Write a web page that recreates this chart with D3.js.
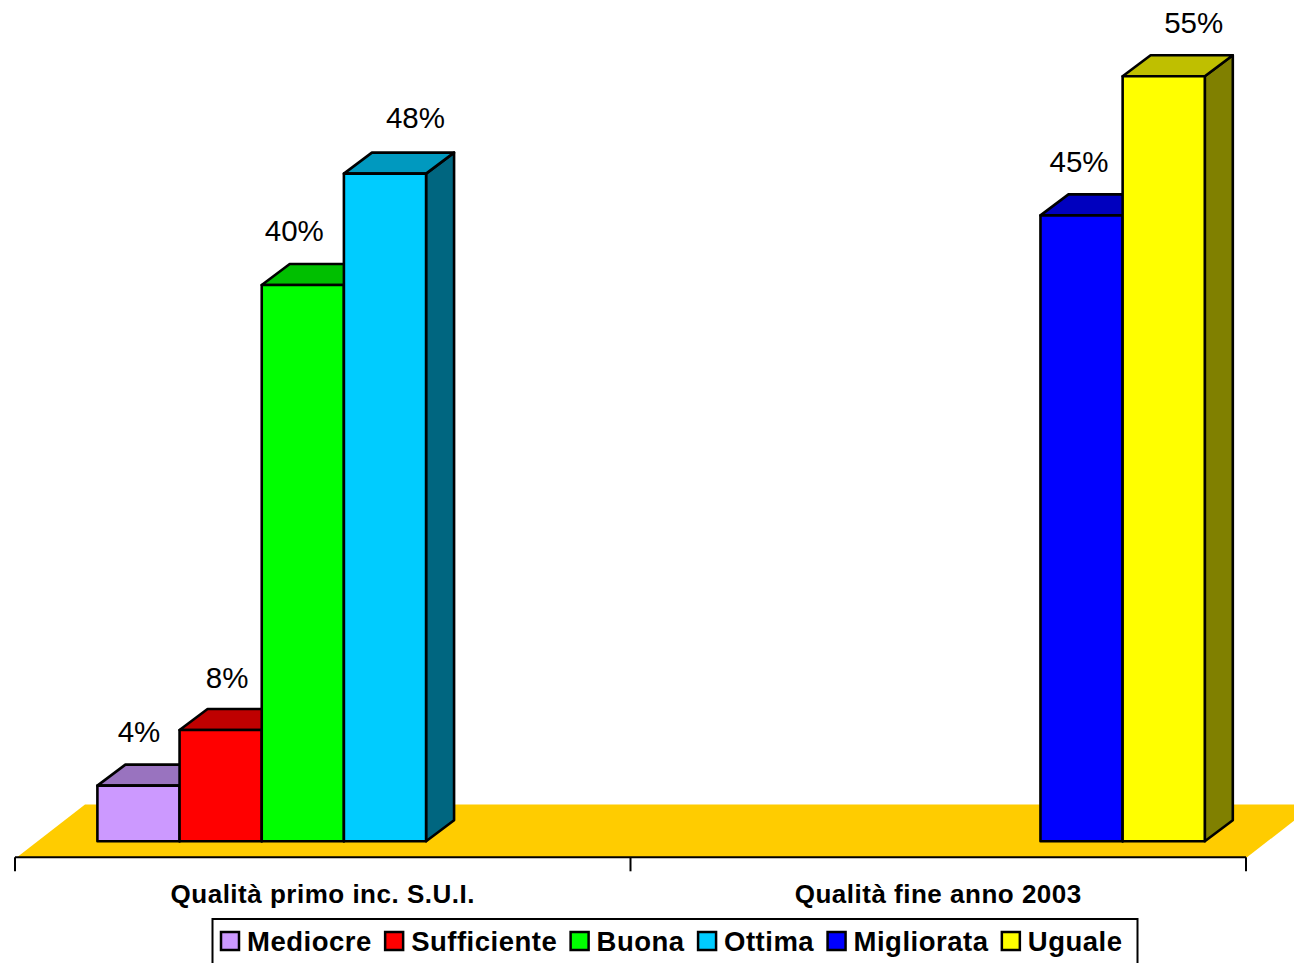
<!DOCTYPE html>
<html>
<head>
<meta charset="utf-8">
<script src="https://cdn.jsdelivr.net/npm/d3@7"></script>
<style>
html,body{margin:0;padding:0;background:#fff;overflow:hidden}
svg{display:block}
text{font-family:"Liberation Sans",Arial,sans-serif;fill:#000}
</style>
</head>
<body>
<svg id="chart" width="1294" height="963"></svg>
<script>
const categories = ["Qualità primo inc. S.U.I.", "Qualità fine anno 2003"];
const seriesNames = ["Mediocre", "Sufficiente", "Buona", "Ottima", "Migliorata", "Uguale"];
const seriesColors = ["#CC99FF", "#FF0000", "#00FF00", "#00CCFF", "#0000FF", "#FFFF00"];
const mediocre = [4, null];
const sufficiente = [8, null];
const buona = [40, null];
const ottima = [48, null];
const migliorata = [null, 45];
const uguale = [null, 55];
const seriesValues = [mediocre, sufficiente, buona, ottima, migliorata, uguale];

// layout only
const labelNudgeX = {Mediocre: 0.5, Sufficiente: 6.5, Buona: -8.5, Ottima: 30.5, Migliorata: -2.5, Uguale: 30};
const labelNudgeY = {Mediocre: -1, Sufficiente: 1, Buona: -0.5, Ottima: -3, Migliorata: -0.5, Uguale: -0.5};
const groupNudge = [0.4, -0.7];
const depthX = 28, depthY = 21, floorDrop = 16, sw = 2.6;

const svg = d3.select("#chart");
const y = d3.scaleLinear().domain([0, 55]).range([841.3, 76.3]);
const x0 = d3.scaleBand().domain(categories).range([15, 1246]);
const x1 = d3.scaleBand().domain(seriesNames)
  .range([82, x0.bandwidth() - 40.5]);

const shade = (c, k) => { const o = d3.rgb(c); return d3.rgb(o.r * k, o.g * k, o.b * k).formatHex(); };
const line = d3.line();

// floor
const fy = y(0) + floorDrop;
svg.append("path")
  .attr("d", line([[x0.range()[0] + 2, fy], [x0.range()[1] + 1, fy],
                   [x0.range()[1] + 1 + depthX * 2.43, fy - depthY * 2.52], [x0.range()[0] + 70, fy - depthY * 2.52]]) + "Z")
  .attr("fill", "#FFCC00");

// bars
categories.forEach((cat, ci) => {
  seriesNames.forEach((name, si) => {
    const v = seriesValues[si][ci];
    if (v == null) return;
    const color = seriesColors[si];
    const xl = x0(cat) + x1(name) + groupNudge[ci], xr = xl + x1.bandwidth();
    const yt = y(v), yb = y(0);
    const g = svg.append("g").attr("stroke", "#000").attr("stroke-width", sw).attr("stroke-linejoin", "round");
    g.append("path").attr("fill", shade(color, 0.5))
      .attr("d", line([[xr, yb], [xr + depthX, yb - depthY], [xr + depthX, yt - depthY], [xr, yt]]) + "Z");
    g.append("path").attr("fill", shade(color, 0.75))
      .attr("d", line([[xl, yt], [xl + depthX, yt - depthY], [xr + depthX, yt - depthY], [xr, yt]]) + "Z");
    g.append("rect").attr("x", xl).attr("y", yt).attr("width", xr - xl).attr("height", yb - yt).attr("fill", color);
  });
});

// value labels
categories.forEach((cat, ci) => {
  seriesNames.forEach((name, si) => {
    const v = seriesValues[si][ci];
    if (v == null) return;
    svg.append("text")
      .attr("x", x0(cat) + x1(name) + x1.bandwidth() / 2 + labelNudgeX[name] + groupNudge[ci])
      .attr("y", y(v) - 43 + labelNudgeY[name])
      .attr("text-anchor", "middle")
      .attr("font-size", 29.5)
      .text(v + "%");
  });
});

// category axis
const axis = svg.append("g").attr("stroke", "#000").attr("stroke-width", 2).attr("fill", "none");
axis.append("path").attr("d", line([[x0.range()[0], fy], [x0.range()[1], fy]]));
[x0.range()[0], x0(categories[1]), x0.range()[1]].forEach(t => {
  axis.append("path").attr("d", line([[t, fy], [t, fy + 14]]));
});
categories.forEach(cat => {
  svg.append("text")
    .attr("x", x0(cat) + x0.bandwidth() / 2)
    .attr("y", 903)
    .attr("text-anchor", "middle")
    .attr("font-size", 26)
    .attr("letter-spacing", 0.5)
    .attr("font-weight", "bold")
    .text(cat);
});

// legend
svg.append("rect").attr("x", 212.5).attr("y", 919).attr("width", 925).attr("height", 60)
  .attr("fill", "#fff").attr("stroke", "#000").attr("stroke-width", 2);
let lx = 221;
seriesNames.forEach((name, si) => {
  svg.append("rect").attr("x", lx).attr("y", 932).attr("width", 18).attr("height", 18)
    .attr("fill", seriesColors[si]).attr("stroke", "#000").attr("stroke-width", 2.5);
  const t = svg.append("text").attr("x", lx + 26).attr("y", 951)
    .attr("font-size", 27.5).attr("letter-spacing", 0.5).attr("font-weight", "bold").text(name);
  lx += 26 + t.node().getComputedTextLength() + 13.4;
});
</script>
</body>
</html>
